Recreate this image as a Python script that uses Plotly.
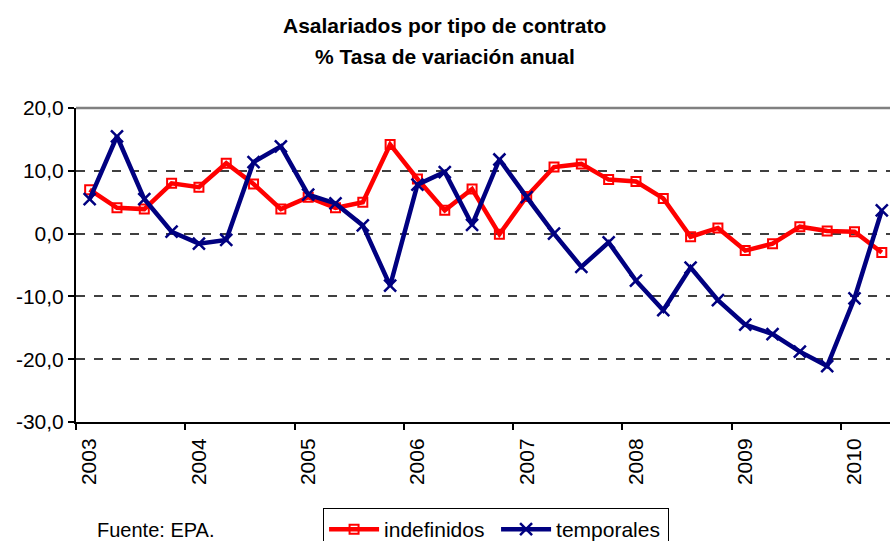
import plotly.graph_objects as go

quarters = list(range(30))  # 2003 Q1 .. 2010 Q2
indefinidos = [7.0, 4.1, 3.9, 8.0, 7.4, 11.2, 7.9, 3.9, 5.8, 4.1, 5.0, 14.2, 8.7, 3.7, 7.1,
               -0.1, 5.9, 10.6, 11.1, 8.6, 8.3, 5.6, -0.5, 0.9, -2.7, -1.6, 1.1, 0.4, 0.3, -3.0]
temporales = [5.5, 15.5, 5.5, 0.3, -1.6, -1.0, 11.4, 13.9, 6.2, 4.8, 1.3, -8.3, 7.8, 9.8, 1.4,
              11.8, 5.8, 0.0, -5.3, -1.4, -7.5, -12.2, -5.4, -10.6, -14.5, -16.0, -18.8, -21.1, -10.3, 3.7]
year_labels = ["2003", "2004", "2005", "2006", "2007", "2008", "2009", "2010"]
year_label_pos = [0, 4, 8, 12, 16, 20, 24, 28]
y_vals = [20, 10, 0, -10, -20, -30]
y_text = ["20,0", "10,0", "0,0", "-10,0", "-20,0", "-30,0"]

FONT = "Liberation Sans, Arial, sans-serif"

fig = go.Figure()
fig.add_trace(go.Scatter(
    x=quarters, y=indefinidos, name="indefinidos", mode="lines+markers",
    line=dict(color="#FF0000", width=4.5),
    marker=dict(symbol="square-open", size=9, color="#FF0000", line=dict(width=2, color="#FF0000")),
))
fig.add_trace(go.Scatter(
    x=quarters, y=temporales, name="temporales", mode="lines+markers",
    line=dict(color="#000080", width=4.5),
    marker=dict(symbol="x-thin-open", size=12, color="#000080", line=dict(width=2.5, color="#000080")),
))

fig.update_layout(
    width=890, height=541,
    margin=dict(l=76, r=0, t=108, b=119, autoexpand=False),
    paper_bgcolor="white", plot_bgcolor="white",
    font=dict(family=FONT, size=21, color="black"),
    showlegend=True,
    legend=dict(
        orientation="h", xref="container", yref="container",
        x=0.363, y=1 - 508 / 541, xanchor="left", yanchor="top",
        bordercolor="black", borderwidth=1, bgcolor="white",
        font=dict(family=FONT, size=21, color="black"),
        itemwidth=50, entrywidth=107, entrywidthmode="pixels", tracegroupgap=0,
    ),
    xaxis=dict(
        range=[-0.5, 29.3], tickmode="array", tickvals=year_label_pos, ticktext=year_labels,
        tickangle=-90, showgrid=False, zeroline=False, automargin=False,
        showline=True, linecolor="black", linewidth=2,
        ticks="outside", ticklen=6, tickwidth=0, tickcolor="rgba(0,0,0,0)",
        minor=dict(tick0=-0.5, dtick=4, ticks="outside", ticklen=6, tickwidth=1.5,
                   tickcolor="black", showgrid=False),
        tickfont=dict(family=FONT, size=21, color="black"),
    ),
    yaxis=dict(
        range=[-30, 20], tickmode="array", tickvals=y_vals, ticktext=y_text,
        showgrid=True, gridcolor="#404040", gridwidth=1.5, griddash="dash",
        zeroline=False, showline=True, linecolor="black", linewidth=2, automargin=False,
        ticks="outside", ticklen=6, tickwidth=1.5, tickcolor="black",
        tickfont=dict(family=FONT, size=21, color="black"),
    ),
    shapes=[dict(type="line", xref="paper", yref="paper", x0=0, x1=1, y0=1, y1=1,
                 line=dict(color="#808080", width=2.5), layer="above")],
    annotations=[
        dict(text="<b>Asalariados por tipo de contrato</b>", xref="paper", yref="paper",
             x=0.453, y=1.263, xanchor="center", yanchor="middle", showarrow=False,
             font=dict(family=FONT, size=21, color="black")),
        dict(text="<b>% Tasa de variación anual</b>", xref="paper", yref="paper",
             x=0.453, y=1.164, xanchor="center", yanchor="middle", showarrow=False,
             font=dict(family=FONT, size=21, color="black")),
        dict(text="Fuente: EPA.", xref="paper", yref="paper",
             x=0.0233, y=-0.345, xanchor="left", yanchor="middle", showarrow=False,
             font=dict(family=FONT, size=20, color="black")),
    ],
)

fig.write_html("out.html", config={"displayModeBar": False},
               post_script="document.body.style.margin='0';document.body.style.overflow='hidden';")
